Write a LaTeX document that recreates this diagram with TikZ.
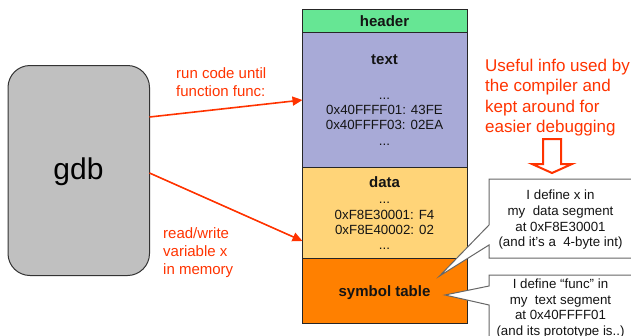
\documentclass[tikz,border=0pt]{standalone}
\usepackage{fontspec}
\setmainfont{Liberation Sans}
\usetikzlibrary{arrows.meta}
\definecolor{redc}{RGB}{255,51,0}
\definecolor{hdr}{RGB}{102,230,148}
\definecolor{txt}{RGB}{168,170,215}
\definecolor{dat}{RGB}{255,212,120}
\definecolor{sym}{RGB}{255,128,0}
\definecolor{gdbc}{RGB}{192,192,192}
\definecolor{lab}{RGB}{20,20,20}
\tikzset{
  x=1pt,y=-1pt,
  seg/.style={draw=black!85,line width=1pt,inner sep=0,outer sep=0,minimum width=164.5pt},
  seglab/.style={font=\fontsize{15}{18}\selectfont\bfseries,text=lab,inner sep=0},
  addr/.style={font=\fontsize{13.3}{15.2}\selectfont,text=lab,align=center,inner sep=0},
  redlab/.style={font=\fontsize{15}{18}\selectfont,text=redc,align=left,inner sep=0,anchor=north west},
  redbig/.style={font=\fontsize{17}{20.6}\selectfont,text=redc,align=left,inner sep=0,anchor=north west},
  redarrow/.style={draw=redc,line width=1.6pt,-{Triangle[length=10pt,width=9pt]}},
  callout/.style={draw=black!60,fill=white,line width=1pt,line join=miter},
  calllab/.style={font=\fontsize{13.3}{15.7}\selectfont,text=lab,align=center,inner sep=0},
}
\begin{document}
\begin{tikzpicture}
\useasboundingbox (0,0) rectangle (631,335);
% memory image
\node[seg,fill=hdr,minimum height=23pt,anchor=north west] (header) at (302.5,9) {};
\node[seg,fill=txt,minimum height=135pt,anchor=north west] (text) at (302.5,32) {};
\node[seg,fill=dat,minimum height=91pt,anchor=north west] (data) at (302.5,167) {};
\node[seg,fill=sym,minimum height=65pt,anchor=north west] (symtab) at (302.5,258) {};
\node[seglab] (lheader) at (384.5,21) {header};
\node[seglab] (ltext) at (384.5,60) {text};
\node[addr] (atext) at (384.5,121.5) {...\\0x40FFFF01: 43FE\\0x40FFFF03: 02EA\\...};
\node[seglab] (ldata) at (384.5,182) {data};
\node[addr] (adata) at (384.5,226) {...\\0xF8E30001: F4\\0xF8E40002: 02\\...};
\node[seglab] (lsym) at (384.5,293) {symbol table};
% gdb
\node[draw=black!80,fill=gdbc,line width=1pt,rounded corners=22pt,minimum width=141.5pt,minimum height=210pt,inner sep=0,outer sep=0,anchor=north west] (gdb) at (8,65.5) {};
\node[font=\fontsize{30}{34}\selectfont,text=black,inner sep=0] (lgdb) at (78.5,172) {gdb};
% connectors
\coordinate (g1) at (149.5,117);
\coordinate (g2) at (149.5,173);
\coordinate (t1) at (302.5,100);
\coordinate (d1) at (302.5,241);
\draw[redarrow] (g1) -- (t1);
\draw[redarrow] (g2) -- (d1);
\node[redlab] (run) at (176,67) {run code until\\function func:};
\node[redlab] (rw) at (163,227) {read/write\\variable x\\in memory};
\node[redbig] (info) at (485,58.5) {Useful info used by\\the compiler and\\kept around for\\easier debugging};
% block arrow
\coordinate (ba) at (552,173);
\draw[draw=redc,fill=white,line width=2pt,line join=miter] (543,139) -- (561,139) -- (561,164) -- (572,164) -- (ba) -- (532,164) -- (543,164) -- cycle;
% callouts
\coordinate (tip1) at (439.5,276);
\coordinate (tip2) at (445,295);
\draw[callout] (489,179) -- (640,179) -- (640,258) -- (489,258) -- (489,245) -- (tip1) -- (489,225) -- cycle;
\draw[callout] (489,275) -- (640,275) -- (640,345) -- (489,345) -- (489,305) -- (tip2) -- (489,286) -- cycle;
\node[calllab] (c1) at (560.5,220) {I define x in\\my\ \ data segment\\at 0xF8E30001\\(and it’s a\ \ 4-byte int)};
\node[calllab,anchor=north] (c2) at (560.5,278.5) {I define “func” in\\my\ \ text segment\\at 0x40FFFF01\\(and its prototype is..)};
\end{tikzpicture}
\end{document}
